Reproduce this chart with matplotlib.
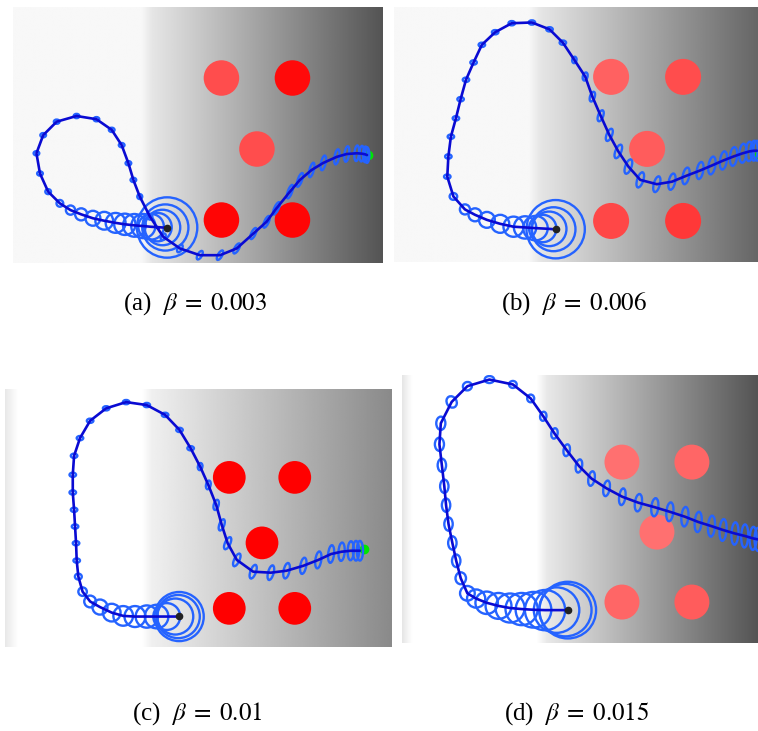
import numpy as np
import matplotlib
matplotlib.use("Agg")
import matplotlib.pyplot as plt
from matplotlib.patches import Ellipse, Circle

plt.rcParams['mathtext.fontset'] = 'stix'
plt.rcParams['font.family'] = ['Liberation Serif', 'DejaVu Serif']

# ---- shared scene -------------------------------------------------------
obs_x = [-1.0, 1.0, 0.0, -1.0, 1.0]
obs_y = [2.0, 2.0, 0.0, -2.0, -2.0]
obs_r = 0.5
start_xy = (-2.53, -2.22)
goal_xy = (3.12, -0.18)

labels = ["(a)", "(b)", "(c)", "(d)"]
betas = ["0.003", "0.006", "0.01", "0.015"]

# whitening of each obstacle's red (0 = pure red)
tint_a = [0.30, 0.04, 0.30, 0.02, 0.02]
tint_b = [0.38, 0.30, 0.36, 0.28, 0.22]
tint_c = [0.0, 0.0, 0.0, 0.0, 0.0]
tint_d = [0.44, 0.40, 0.44, 0.40, 0.36]

# ---- (a) beta = 0.003 ---------------------------------------------------
a_x = [-2.53, -2.58, -2.66, -2.80, -2.98, -3.20, -3.45, -3.72, -3.98, -4.30,
       -4.62, -4.95, -5.25, -5.55, -5.88, -6.11, -6.21, -6.02, -5.64, -5.08,
       -4.52, -4.09, -3.81, -3.62, -3.48, -3.30, -3.01, -2.64, -2.17, -1.61,
       -1.04, -0.57, -0.10, 0.27, 0.55, 0.93, 1.21, 1.54, 1.87, 2.25,
       2.53, 2.81, 2.95, 3.05, 3.10]
a_y = [-2.21, -2.21, -2.21, -2.20, -2.19, -2.17, -2.15, -2.12, -2.08, -2.02,
       -1.95, -1.84, -1.72, -1.53, -1.20, -0.69, -0.12, 0.39, 0.77, 0.93,
       0.84, 0.54, 0.11, -0.40, -0.87, -1.34, -1.91, -2.47, -2.80, -2.99,
       -2.99, -2.80, -2.38, -2.05, -1.67, -1.20, -0.87, -0.59, -0.39, -0.22,
       -0.14, -0.12, -0.13, -0.15, -0.17]
a_w = [1.70, 1.30, 1.00, 0.80, 0.72, 0.68, 0.64, 0.60, 0.56, 0.50,
       0.42, 0.34, 0.26, 0.19, 0.16, 0.16, 0.16, 0.16, 0.16, 0.16,
       0.16, 0.16, 0.16, 0.16, 0.16, 0.14, 0.13, 0.12, 0.12, 0.12,
       0.12, 0.12, 0.12, 0.12, 0.12, 0.12, 0.12, 0.12, 0.13, 0.13,
       0.13, 0.13, 0.13, 0.13, 0.13]
a_h = [1.70, 1.30, 1.00, 0.80, 0.72, 0.68, 0.64, 0.60, 0.56, 0.50,
       0.42, 0.34, 0.26, 0.19, 0.14, 0.12, 0.12, 0.12, 0.12, 0.12,
       0.12, 0.12, 0.12, 0.12, 0.12, 0.14, 0.16, 0.20, 0.24, 0.27,
       0.30, 0.32, 0.34, 0.36, 0.38, 0.40, 0.41, 0.42, 0.42, 0.43,
       0.44, 0.44, 0.44, 0.44, 0.44]
a_ang = [0] * 27 + [-30, -30, -30, -30, -30, -25, -25, -25, -20, -20,
                    -15, -12, -10, -8, -5, -3, -2, 0]

# ---- (b) beta = 0.006 ---------------------------------------------------
b_x = [-2.54, -2.60, -2.72, -2.90, -3.10, -3.39, -3.71, -4.08, -4.45, -4.78,
       -5.06, -5.38, -5.55, -5.52, -5.45, -5.31, -5.18, -5.03, -4.82, -4.59,
       -4.22, -3.76, -3.20, -2.71, -2.34, -2.02, -1.72, -1.52, -1.29, -1.05,
       -0.80, -0.52, -0.19, 0.27, 0.69, 1.08, 1.47, 1.80, 2.12, 2.40,
       2.66, 2.84, 2.97, 3.05]
b_y = [-2.23, -2.23, -2.22, -2.21, -2.20, -2.18, -2.16, -2.08, -1.97, -1.83,
       -1.68, -1.32, -0.77, -0.21, 0.34, 0.85, 1.38, 1.92, 2.40, 2.89,
       3.24, 3.49, 3.51, 3.32, 2.95, 2.47, 2.01, 1.45, 0.92, 0.39,
       -0.07, -0.49, -0.86, -0.98, -0.91, -0.75, -0.60, -0.46, -0.32, -0.21,
       -0.12, -0.07, -0.05, -0.05]
b_w = [1.62, 1.22, 0.96, 0.76, 0.68, 0.62, 0.56, 0.50, 0.44, 0.36,
       0.28, 0.21] + [0.18] * 13 + [0.12, 0.13, 0.13, 0.14, 0.15, 0.16,
       0.17, 0.17, 0.17, 0.18, 0.18, 0.18, 0.19, 0.19, 0.20, 0.20, 0.20,
       0.20, 0.20]
b_h = [1.62, 1.22, 0.96, 0.76, 0.68, 0.62, 0.56, 0.50, 0.44, 0.36,
       0.28, 0.19] + [0.12] * 13 + [0.18, 0.23, 0.28, 0.32, 0.36, 0.40,
       0.42, 0.44, 0.45, 0.46, 0.47, 0.48, 0.50, 0.51, 0.52, 0.53, 0.54,
       0.55, 0.55]
b_ang = [0] * 25 + [-10, -15, -18, -20, -22, -22, -20, -18, -15, -12,
                    -12, -10, -10, -8, -6, -5, -3, -2, 0]

# ---- (c) beta = 0.01 ----------------------------------------------------
c_x = [-2.53, -2.56, -2.65, -2.91, -3.22, -3.52, -3.88, -4.24, -4.59, -4.95,
       -5.25, -5.48, -5.61, -5.66, -5.68, -5.71, -5.74, -5.78, -5.78, -5.74,
       -5.56, -5.25, -4.76, -4.15, -3.52, -2.96, -2.52, -2.18, -1.89, -1.64,
       -1.40, -1.23, -1.05, -0.77, -0.27, 0.27, 0.75, 1.26, 1.72, 2.11,
       2.43, 2.71, 2.87, 2.99]
c_y = [-2.25, -2.25, -2.25, -2.25, -2.25, -2.25, -2.25, -2.23, -2.13, -1.96,
       -1.79, -1.49, -1.03, -0.54, -0.01, 0.50, 1.01, 1.54, 2.08, 2.66,
       3.20, 3.73, 4.11, 4.30, 4.21, 3.91, 3.45, 2.89, 2.33, 1.77,
       1.16, 0.55, -0.01, -0.52, -0.88, -0.91, -0.85, -0.70, -0.52, -0.34,
       -0.27, -0.24, -0.24, -0.24]
c_w = [1.50, 1.32, 1.10, 0.82, 0.72, 0.68, 0.64, 0.60, 0.54, 0.46,
       0.36, 0.26, 0.21] + [0.20] * 15 + [0.14, 0.14, 0.15, 0.15, 0.16,
       0.16, 0.17, 0.17, 0.18, 0.18, 0.18, 0.18, 0.19, 0.19, 0.19, 0.19]
c_h = [1.50, 1.32, 1.10, 0.82, 0.72, 0.68, 0.64, 0.60, 0.54, 0.46,
       0.36, 0.26, 0.18] + [0.13] * 15 + [0.22, 0.27, 0.32, 0.36, 0.40,
       0.42, 0.44, 0.46, 0.48, 0.50, 0.52, 0.54, 0.56, 0.58, 0.60, 0.60]
c_ang = [0] * 28 + [-10, -12, -15, -20, -25, -25, -20, -15, -12, -10,
                    -8, -6, -4, -2, 0, 0]

# ---- (d) beta = 0.015 ---------------------------------------------------
d_x = [-2.55, -2.62, -2.87, -3.20, -3.53, -3.87, -4.20, -4.53, -4.87, -5.17,
       -5.42, -5.61, -5.74, -5.85, -5.96, -6.03, -6.08, -6.15, -6.22, -6.18,
       -5.87, -5.42, -4.79, -4.12, -3.61, -3.25, -2.93, -2.58, -2.23, -1.87,
       -1.44, -0.99, -0.53, -0.06, 0.37, 0.80, 1.18, 1.56, 1.89, 2.23,
       2.51, 2.75, 2.89]
d_y = [-2.23, -2.23, -2.23, -2.23, -2.22, -2.20, -2.17, -2.11, -2.02, -1.90,
       -1.75, -1.32, -0.82, -0.31, 0.23, 0.77, 1.31, 1.91, 2.51, 3.11,
       3.72, 4.17, 4.36, 4.22, 3.82, 3.31, 2.82, 2.34, 1.89, 1.53,
       1.25, 1.01, 0.84, 0.71, 0.58, 0.44, 0.29, 0.17, 0.06, -0.04,
       -0.11, -0.18, -0.21]
d_w = [1.62, 1.50, 1.30, 1.15, 1.02, 0.92, 0.83, 0.74, 0.64, 0.52,
       0.42, 0.30, 0.24, 0.24, 0.24, 0.24, 0.24, 0.24, 0.26, 0.26,
       0.28, 0.26, 0.27, 0.22, 0.20, 0.18, 0.18, 0.18, 0.18, 0.18,
       0.18, 0.18, 0.20, 0.20, 0.20, 0.20, 0.20, 0.20, 0.20, 0.20,
       0.20, 0.20, 0.20]
d_h = [1.62, 1.50, 1.30, 1.15, 1.02, 0.92, 0.83, 0.74, 0.64, 0.52,
       0.42, 0.34, 0.36, 0.38, 0.38, 0.38, 0.38, 0.38, 0.38, 0.38,
       0.34, 0.24, 0.20, 0.20, 0.22, 0.26, 0.30, 0.34, 0.38, 0.42,
       0.45, 0.48, 0.50, 0.52, 0.54, 0.56, 0.58, 0.60, 0.62, 0.64,
       0.66, 0.66, 0.66]
d_ang = [0] * 20 + [30, 20, 0, 0, 0, -10, -10, -10, -10, -10,
                    -10, -8, -8, -6, -6, -5, -5, -4, -4, -3,
                    -2, -2, 0]

# ---- figure layout ------------------------------------------------------
FIG_W, FIG_H = 758, 731
fig = plt.figure(figsize=(FIG_W / 100, FIG_H / 100), dpi=100)
fig.patch.set_facecolor('white')

panels = [
    # pixel box (x0, y0, x1, y1), world limits (x0, x1, y0, y1),
    # background shade stops, caption centre (px)
    dict(box=(13, 7, 383, 263), lim=(-6.87, 3.55, -3.21, 4.00),
         bg_x=[-6.87, -3.25, -2.95, 3.55], bg_v=[0.97, 0.97, 0.90, 0.33],
         path=(a_x, a_y, a_w, a_h, a_ang), tint=tint_a, cap=(195, 304)),
    dict(box=(394, 7, 758, 262), lim=(-7.03, 3.08, -3.14, 3.94),
         bg_x=[-7.03, -3.27, -2.97, 3.08], bg_v=[0.97, 0.97, 0.90, 0.40],
         path=(b_x, b_y, b_w, b_h, b_ang), tint=tint_b, cap=(574, 304)),
    dict(box=(5, 389, 392, 647), lim=(-7.85, 3.97, -3.18, 4.70),
         bg_x=[-7.85, -7.45, -3.67, -3.37, 3.97],
         bg_v=[0.91, 1.00, 1.00, 0.94, 0.54],
         path=(c_x, c_y, c_w, c_h, c_ang), tint=tint_c, cap=(197, 714)),
    dict(box=(402, 375, 758, 643), lim=(-7.29, 2.89, -3.17, 4.49),
         bg_x=[-7.29, -7.00, -3.44, -3.14, 2.89],
         bg_v=[0.90, 1.00, 1.00, 0.91, 0.33],
         path=(d_x, d_y, d_w, d_h, d_ang), tint=tint_d, cap=(577, 714)),
]

LINE_C = '#0a0ad2'
ELL_C = '#2563ff'

for lab, beta, p in zip(labels, betas, panels):
    x0, y0, x1, y1 = p['box']
    ax = fig.add_axes([x0 / FIG_W, 1 - y1 / FIG_H,
                       (x1 - x0) / FIG_W, (y1 - y0) / FIG_H])
    lx0, lx1, ly0, ly1 = p['lim']

    # horizontal light-to-dark background
    gx = np.linspace(lx0, lx1, 800)
    shade = np.interp(gx, p['bg_x'], p['bg_v'])
    ax.imshow(shade[np.newaxis, :], cmap='gray', vmin=0, vmax=1,
              extent=(lx0, lx1, ly0, ly1), aspect='auto',
              interpolation='bilinear', zorder=0)

    # obstacles
    for ox, oy, t in zip(obs_x, obs_y, p['tint']):
        ax.add_patch(Circle((ox, oy), obs_r, facecolor=(1.0, t, t),
                            edgecolor='none', zorder=1))

    px, py, pw, ph, pa = p['path']
    ax.plot([goal_xy[0]], [goal_xy[1]], 'o', color='#00e600',
            markersize=6, zorder=2)

    # belief covariance ellipses
    for ex, ey, ew, eh, ea in zip(px, py, pw, ph, pa):
        ax.add_patch(Ellipse((ex, ey), ew, eh, angle=ea, fill=False,
                             edgecolor=ELL_C, linewidth=1.7, zorder=3))

    # mean trajectory
    ax.plot(px, py, color=LINE_C, linewidth=1.9, solid_joinstyle='round',
            solid_capstyle='round', zorder=4)
    ax.plot([start_xy[0]], [start_xy[1]], 'o', color='#222222',
            markersize=4.5, zorder=5)

    ax.set_xlim(lx0, lx1)
    ax.set_ylim(ly0, ly1)
    ax.set_axis_off()

    cx, cy = p['cap']
    fig.text(cx / FIG_W, 1 - cy / FIG_H,
             lab + r"  $\beta\;=\;" + beta + "$",
             ha='center', va='center', fontsize=18)

fig.savefig('out.png', dpi=100, facecolor='white')
